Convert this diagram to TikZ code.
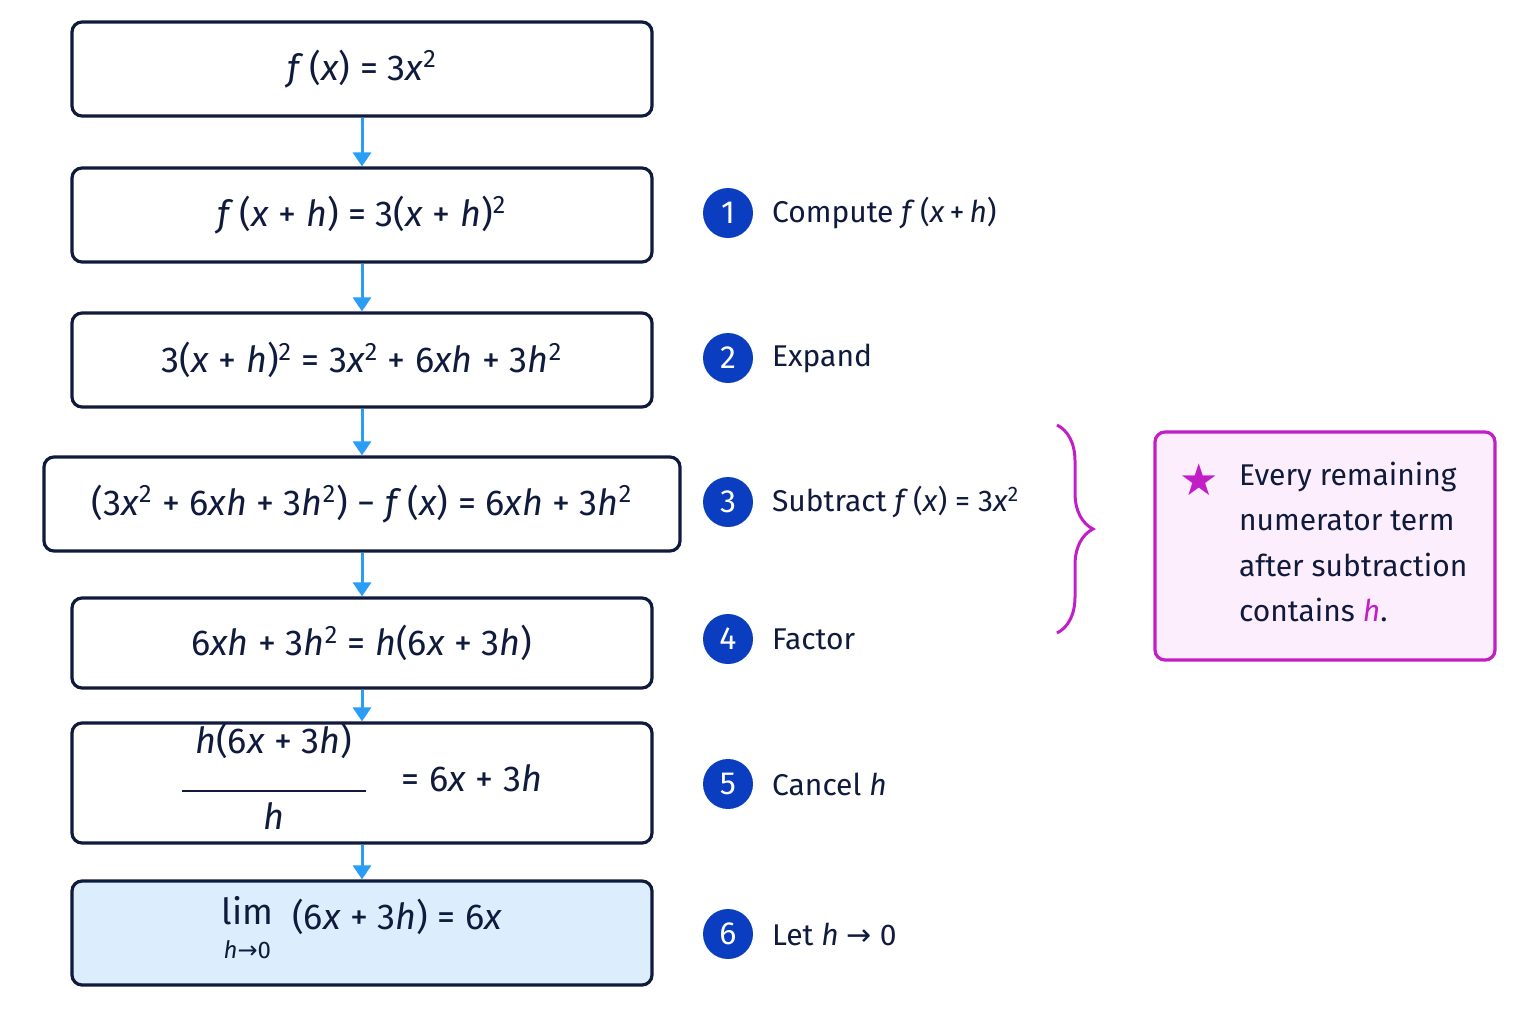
\documentclass[tikz,border=0pt]{standalone}
\usepackage{fontspec}
\setmainfont{Fira Sans}
\usetikzlibrary{arrows.meta,decorations.pathreplacing}
\newfontfamily\symf{DejaVu Sans}
\newcommand{\mi}[1]{\textit{#1}}
\newcommand{\sq}{\textsuperscript{2}}
\definecolor{navy}{HTML}{0F1A3C}
\definecolor{arrowblue}{HTML}{2A9DF4}
\definecolor{circblue}{HTML}{0A3DBF}
\definecolor{mag}{HTML}{C21EC8}
\definecolor{pinkfill}{HTML}{FCEEFC}
\definecolor{lightblue}{HTML}{DCEEFD}
\begin{document}
\begin{tikzpicture}[x=0.5pt,y=-0.5pt,
  box/.style={draw=navy,line width=1.6pt,rounded corners=5pt,fill=white,font=\fontsize{18}{22}\selectfont,text=navy,inner sep=0pt},
  arr/.style={arrowblue,line width=1.5pt,-{Triangle[width=9pt,length=7pt]}},
  num/.style={circle,fill=circblue,text=white,minimum size=25pt,inner sep=0pt,font=\fontsize{16}{18}\selectfont},
  lab/.style={anchor=west,text=navy,font=\fontsize{15}{18}\selectfont}]
\useasboundingbox (0,0) rectangle (1536,1024);
\fill[white] (0,0) rectangle (1536,1024);
\node[box,minimum width=290pt,minimum height=47pt] (b1) at (362,69) {\mi{f}\,(\mi{x}) = 3\mi{x}\sq};
\node[box,minimum width=290pt,minimum height=47pt] (b2) at (362,215) {\mi{f}\,(\mi{x} + \mi{h}) = 3(\mi{x} + \mi{h})\sq};
\node[box,minimum width=290pt,minimum height=47pt] (b3) at (362,360) {3(\mi{x} + \mi{h})\sq{} = 3\mi{x}\sq{} + 6\mi{xh} + 3\mi{h}\sq};
\node[box,minimum width=318pt,minimum height=47pt] (b4) at (362,504) {(3\mi{x}\sq{} + 6\mi{xh} + 3\mi{h}\sq) − \mi{f}\,(\mi{x}) = 6\mi{xh} + 3\mi{h}\sq};
\node[box,minimum width=290pt,minimum height=45pt] (b5) at (362,643) {6\mi{xh} + 3\mi{h}\sq{} = \mi{h}(6\mi{x} + 3\mi{h})};
\node[box,minimum width=290pt,minimum height=54pt] (b6) at (362,783) {\begin{tabular}{@{}c@{}}\mi{h}(6\mi{x} + 3\mi{h})\\[-3pt]\rule{92pt}{0.9pt}\\[-3pt]\mi{h}\end{tabular}\quad= 6\mi{x} + 3\mi{h}};
\node[box,fill=lightblue,minimum width=290pt,minimum height=52pt] (b7) at (362,933) {\raisebox{-6pt}{\begin{tabular}{@{}c@{}}lim\\[-5pt]{\fontsize{12}{12}\selectfont\mi{h}{\symf→}0}\end{tabular}}\ \ (6\mi{x} + 3\mi{h}) = 6\mi{x}};
\foreach \a/\b in {b1/b2,b2/b3,b3/b4,b4/b5,b5/b6,b6/b7} \draw[arr] (\a.south) -- (\b.north);
\foreach \n/\y/\t in {1/213/{Compute \mi{f}\,(\mi{x}\,+\,\mi{h})},2/358/{Expand},3/502/{Subtract \mi{f}\,(\mi{x}) = 3\mi{x}\sq},4/639/{Factor},5/784/{Cancel \mi{h}},6/934/{Let \mi{h} {\symf→} 0}}{
  \node[num] (c\n) at (728,\y) {\n};
  \node[lab] (l\n) at (765,\y) {\t};
}
\coordinate (bt) at (1057,425);
\coordinate (bb) at (1057,633);
\draw[mag,line width=1.5pt,decorate,decoration={brace,amplitude=18pt,raise=0pt}] (bt) -- (bb);
\node[draw=mag,fill=pinkfill,line width=1.6pt,rounded corners=5pt,minimum width=170pt,minimum height=114pt] (note) at (1325,546) {};
\node[text=mag,font=\symf\fontsize{22}{22}\selectfont] (star) at (1199,480) {★};
\node[anchor=north west,text=navy,font=\fontsize{15}{22.7}\selectfont,align=left] (nt) at (1232,455) {Every remaining\\numerator term\\after subtraction\\contains \textcolor{mag}{\mi{h}}.};
\end{tikzpicture}
\end{document}
